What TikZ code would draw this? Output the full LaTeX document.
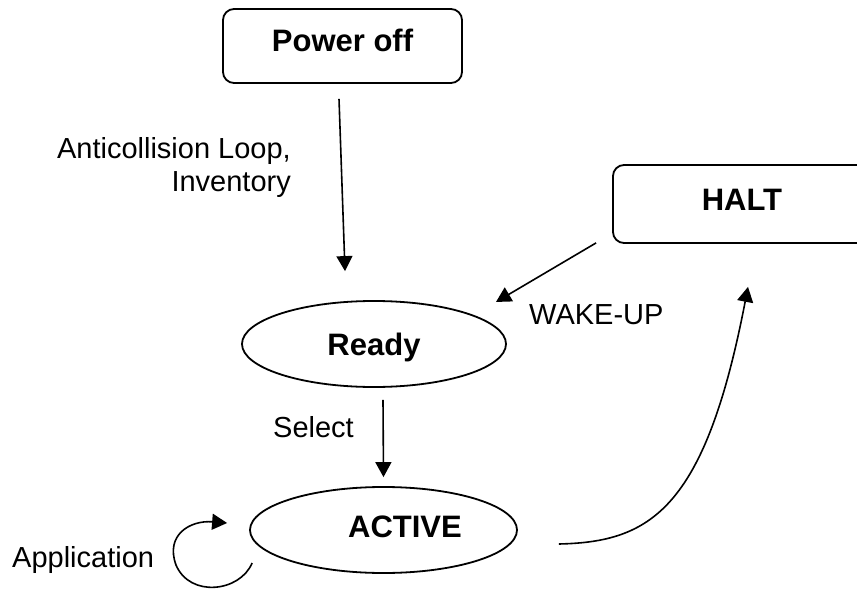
\documentclass[tikz,border=0pt]{standalone}
\usepackage{fontspec}
\setmainfont{Liberation Sans}
\usetikzlibrary{arrows.meta,shapes.geometric,calc}
\tikzset{
  lbl/.style={inner sep=0pt, font=\fontsize{29}{33}\selectfont},
  statebox/.style={draw, line width=1.8pt, rounded corners=11pt, inner sep=0pt,
    font=\fontsize{31}{36}\selectfont\bfseries, text height=22pt, text depth=10pt},
  stateell/.style={draw, ellipse, line width=1.8pt, inner sep=0pt,
    font=\fontsize{31}{36}\selectfont\bfseries, text height=22pt},
  arr/.style={line width=1.6pt, -{Triangle[length=15pt,width=16pt]}}
}
\begin{document}
\begin{tikzpicture}[x=1pt,y=-1pt]
\useasboundingbox (0,0) rectangle (857,591);
\clip (0,0) rectangle (857,591);
\fill[white] (0,0) rectangle (857,591);

\node[statebox, minimum width=239pt, minimum height=74pt] (poweroff) at (342.5,46) {Power off};
\node[statebox, minimum width=258pt, minimum height=78pt] (halt) at (742,204) {HALT};
\node[stateell, minimum width=264pt, minimum height=86pt, text depth=0pt] (ready) at (374,344) {Ready};
\node[stateell, minimum width=267pt, minimum height=86pt, text depth=8pt] (active) at (383.5,530) {\hspace*{43pt}ACTIVE};

\node[lbl, align=right, anchor=east] (anti) at (291,168) {Anticollision Loop,\\Inventory};
\node[lbl, anchor=base west] (wake) at (529,324) {WAKE-UP};
\node[lbl, anchor=base west] (sel) at (273,437) {Select};
\node[lbl, anchor=base west] (app) at (12,567) {Application};

\draw[arr] ($(poweroff.south)+(-3.5,15)$) -- ($(ready.north)+(-29,-29)$);
\draw[arr] ($(halt.south west)+(-16,-1)$) -- ($(ready.north east)+(28,-11)$);
\draw[arr] ($(ready.south)+(9,12)$) -- ($(active.north)+(0,-9)$);
\draw[arr] ($(active.east)+(41,14)$) .. controls (650,542) and (705,510) .. ($(halt.south)+(6,43)$);
\draw[arr] ($(active.west)+(3,33)$) .. controls (240,592) and (190,598) .. (176,565)
  .. controls (165,535) and (190,520) .. ($(active.west)+(-22,-7)$);
\end{tikzpicture}
\end{document}
